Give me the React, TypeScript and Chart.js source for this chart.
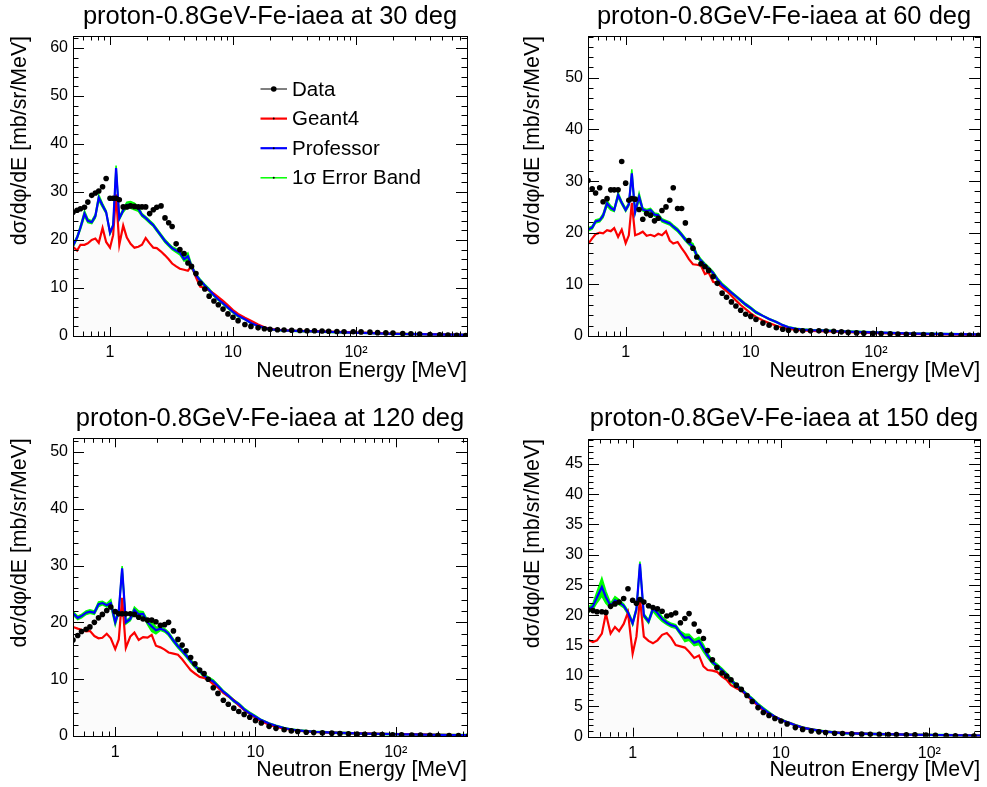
import React, { useEffect, useRef } from "react";
import { Chart, registerables } from "chart.js";
Chart.register(...registerables);

const FONT = "'Liberation Sans', Arial, Helvetica, sans-serif";

// Neutron energy grid [MeV]
const energies = [
  0.5, 0.54, 0.575, 0.62, 0.66, 0.71, 0.76, 0.81, 0.87, 0.93,
  1.0, 1.06, 1.12, 1.19, 1.28, 1.37, 1.47, 1.58, 1.7, 1.82,
  1.95, 2.1, 2.25, 2.4, 2.6, 2.8, 3.0, 3.2, 3.45, 3.7,
  4.0, 4.3, 4.6, 5.0, 5.4, 5.9, 6.4, 7.0, 7.6, 8.3,
  9.1, 10, 11, 12.5, 14, 16, 18, 20, 23, 26,
  30, 35, 40, 46, 53, 60, 70, 80, 95, 110,
  130, 150, 175, 200, 240, 280, 330, 400, 480, 560,
  660, 780,
];

// ---- 30 deg ----
const data30 = [
  25.8, 26.2, 26.5, 26.8, 27.9, 29.3, 29.8, 30.2, 31.1, 32.8,
  28.7, 28.7, 28.7, 28.4, 26.9, 26.9, 27.1, 27.0, 26.9, 26.9,
  26.9, 25.5, 26.3, 26.8, 27.1, 24.6, 23.6, 22.8, 19.2, 18.0,
  17.2, 15.2, 14.5, 13.0, 11.0, 9.8, 8.3, 7.3, 6.5, 5.6,
  4.6, 3.9, 3.2, 2.4, 2.0, 1.7, 1.5, 1.4, 1.3, 1.25,
  1.2, 1.15, 1.1, 1.1, 1.05, 1.0, 0.95, 0.9, 0.9, 0.85,
  0.8, 0.7, 0.65, 0.6, 0.5, 0.45, 0.4, 0.3, 0.25, 0.2,
  0.15, 0.1,
];
const geant30 = [
  18.6, 17.8, 19.0, 19.0, 19.3, 20.0, 20.3, 19.4, 22.5, 19.6,
  18.4, 21.0, 29.5, 19.0, 23.0, 20.5, 19.2, 18.4, 18.6, 19.0,
  20.4, 19.3, 18.4, 18.3, 17.6, 16.8, 16.0, 15.1, 14.5, 14.0,
  13.8, 13.6, 14.6, 12.2, 10.3, 10.0, 9.5, 8.8, 8.1, 7.3,
  6.4, 5.4, 4.6, 3.8, 3.2, 2.4, 1.8, 1.5, 1.3, 1.2,
  1.1, 1.05, 1.0, 1.0, 0.95, 0.9, 0.85, 0.8, 0.75, 0.7,
  0.65, 0.6, 0.55, 0.5, 0.45, 0.4, 0.38, 0.35, 0.32, 0.3,
  0.28, 0.25,
];
const prof30 = [
  18.8, 20.5, 22.6, 25.5, 24.0, 23.7, 25.0, 28.8, 27.2, 25.8,
  21.5, 23.0, 35.0, 24.5, 26.2, 27.3, 27.3, 27.0, 26.5, 25.2,
  24.6, 23.8, 23.1, 22.1, 20.9, 19.8, 19.0, 18.3, 17.8, 17.4,
  16.0, 16.6, 14.5, 12.7, 11.6, 10.5, 9.6, 8.5, 7.6, 6.8,
  5.9, 5.0, 4.2, 3.5, 2.7, 2.1, 1.7, 1.4, 1.25, 1.15,
  1.1, 1.0, 1.0, 0.95, 0.9, 0.85, 0.8, 0.75, 0.7, 0.65,
  0.6, 0.55, 0.5, 0.45, 0.42, 0.4, 0.38, 0.35, 0.32, 0.3,
  0.28, 0.25,
];
const err30 = [
  0.3, 0.3, 0.4, 0.6, 0.4, 0.3, 0.4, 0.6, 0.4, 0.3,
  0.3, 0.3, 0.5, 0.3, 0.4, 0.6, 0.7, 0.7, 0.5, 0.3,
  0.3, 0.3, 0.3, 0.3, 0.3, 0.3, 0.3, 0.3, 0.4, 0.5,
  0.4, 0.7, 0.4, 0.3, 0.3, 0.3, 0.3, 0.2, 0.2, 0.2,
  0.2, 0.2, 0.2, 0.1, 0.1, 0.1, 0.1, 0.1, 0.1, 0.1,
  0.1, 0.1, 0.1, 0.1, 0.1, 0.1, 0.1, 0.1, 0.1, 0.1,
  0.1, 0.1, 0.1, 0.1, 0.1, 0.1, 0.1, 0.1, 0.1, 0.1,
  0.1, 0.1,
];

// ---- 60 deg ----
const data60 = [
  30.1, 28.5, 27.7, 28.7, 26.0, 26.6, 28.3, 28.3, 28.3, 33.8,
  29.6, 26.3, 26.6, 26.5, 24.5, 22.6, 23.7, 23.4, 22.3, 22.8,
  24.3, 25.0, 26.3, 28.7, 24.7, 24.7, 21.9, 18.5, 17.0, 15.3,
  14.0, 13.4, 12.7, 11.5, 10.2, 8.3, 7.5, 6.6, 5.8, 5.0,
  4.2, 3.8, 3.2, 2.5, 2.1, 1.6, 1.3, 1.1, 1.05, 1.0,
  1.0, 1.0, 0.95, 0.9, 0.8, 0.7, 0.6, 0.55, 0.5, 0.47,
  0.45, 0.4, 0.35, 0.32, 0.28, 0.25, 0.22, 0.17, 0.15, 0.13,
  0.12, 0.1,
];
const geant60 = [
  17.8, 18.9, 19.7, 20.0, 19.9, 20.5, 20.3, 20.9, 19.2, 20.6,
  18.0, 19.5, 25.8, 19.5, 19.8, 20.2, 19.4, 19.6, 19.3, 19.8,
  19.5, 20.3, 18.5, 17.9, 18.2, 17.0, 16.0, 14.9, 13.9, 13.8,
  13.6, 12.0, 12.3, 10.5, 10.2, 9.4, 8.7, 7.8, 6.9, 6.0,
  5.2, 4.4, 3.7, 3.0, 2.5, 2.0, 1.6, 1.4, 1.2, 1.1,
  1.0, 0.95, 0.9, 0.85, 0.8, 0.75, 0.7, 0.65, 0.6, 0.55,
  0.5, 0.45, 0.42, 0.4, 0.38, 0.35, 0.33, 0.3, 0.28, 0.25,
  0.22, 0.2,
];
const prof60 = [
  20.6, 21.0, 22.2, 22.4, 23.3, 25.7, 24.8, 24.4, 27.3, 25.8,
  24.4, 25.5, 31.5, 24.0, 27.0, 24.5, 24.2, 24.4, 23.5, 23.4,
  22.4, 22.1, 21.8, 21.2, 20.5, 19.6, 18.7, 18.0, 17.4, 15.6,
  14.6, 13.8, 13.1, 12.2, 11.0, 9.9, 9.2, 8.4, 7.7, 6.9,
  6.1, 5.4, 4.6, 3.9, 3.3, 2.7, 2.1, 1.7, 1.4, 1.25,
  1.15, 1.1, 1.05, 0.95, 0.9, 0.85, 0.8, 0.75, 0.7, 0.65,
  0.6, 0.55, 0.5, 0.47, 0.45, 0.42, 0.4, 0.38, 0.35, 0.32,
  0.3, 0.28,
];
const err60 = [
  0.3, 0.3, 0.3, 0.3, 0.4, 0.5, 0.4, 0.3, 0.5, 0.3,
  0.3, 0.3, 0.8, 0.3, 0.7, 0.3, 0.3, 0.3, 0.3, 0.3,
  0.3, 0.3, 0.3, 0.3, 0.3, 0.3, 0.3, 0.3, 0.5, 0.4,
  0.3, 0.3, 0.3, 0.3, 0.3, 0.3, 0.3, 0.2, 0.2, 0.2,
  0.2, 0.2, 0.2, 0.1, 0.1, 0.1, 0.1, 0.1, 0.1, 0.1,
  0.1, 0.1, 0.1, 0.1, 0.1, 0.1, 0.1, 0.1, 0.1, 0.1,
  0.1, 0.1, 0.1, 0.1, 0.1, 0.1, 0.1, 0.1, 0.1, 0.1,
  0.1, 0.1,
];

// ---- 120 deg ----
const data120 = [
  16.9, 17.7, 18.4, 18.8, 19.2, 20.0, 20.8, 21.4, 22.1, 22.7,
  21.9, 21.5, 21.5, 21.5, 21.5, 21.4, 20.9, 20.6, 20.4, 20.4,
  20.1, 19.5, 19.6, 20.0, 18.5, 17.0, 16.0, 15.0, 13.8, 12.7,
  11.6, 11.0, 10.0, 8.5, 7.5, 6.3, 5.6, 4.9, 4.3, 3.8,
  3.3, 2.7, 2.3, 1.7, 1.35, 1.1, 0.9, 0.8, 0.65, 0.6,
  0.55, 0.5, 0.45, 0.4, 0.35, 0.3, 0.28, 0.25, 0.22, 0.2,
  0.17, 0.15, 0.12, 0.1, 0.08, 0.07, 0.06, 0.05, 0.05, 0.05,
  0.05, 0.05,
];
const geant120 = [
  19.2, 18.9, 18.7, 18.4, 18.5, 17.6, 17.2, 17.3, 18.0, 17.2,
  15.3, 17.0, 24.3, 15.5, 17.5, 18.2, 16.9, 17.4, 17.3, 17.8,
  15.9, 15.6, 15.2, 14.7, 14.5, 14.3, 13.5, 12.6, 11.6, 11.0,
  10.4, 10.2, 9.9, 9.1, 8.5, 7.6, 7.0, 6.3, 5.4, 4.6,
  3.9, 3.2, 2.6, 2.0, 1.6, 1.3, 1.1, 0.95, 0.8, 0.7,
  0.62, 0.58, 0.55, 0.5, 0.47, 0.45, 0.42, 0.38, 0.35, 0.32,
  0.3, 0.27, 0.25, 0.22, 0.2, 0.18, 0.16, 0.15, 0.14, 0.13,
  0.12, 0.1,
];
const prof120 = [
  21.6, 20.8, 21.1, 21.7, 21.9, 21.7, 23.2, 23.4, 23.0, 23.4,
  20.0, 22.0, 29.5, 20.0, 20.6, 22.2, 21.4, 21.5, 20.0, 19.3,
  18.6, 18.9, 18.6, 18.0, 16.8, 15.8, 15.0, 14.2, 13.2, 12.3,
  11.5, 10.6, 10.1, 9.6, 8.8, 7.8, 7.1, 6.2, 5.6, 4.7,
  4.0, 3.4, 2.8, 2.2, 1.8, 1.4, 1.15, 1.0, 0.85, 0.75,
  0.68, 0.6, 0.55, 0.5, 0.45, 0.42, 0.4, 0.36, 0.33, 0.3,
  0.28, 0.25, 0.22, 0.2, 0.18, 0.16, 0.15, 0.14, 0.13, 0.12,
  0.11, 0.1,
];
const err120 = [
  0.3, 0.3, 0.3, 0.3, 0.3, 0.3, 0.4, 0.3, 0.3, 0.6,
  0.5, 0.3, 0.4, 0.3, 0.3, 0.5, 0.6, 0.4, 0.4, 0.9,
  0.6, 0.3, 0.3, 0.3, 0.3, 0.3, 0.3, 0.3, 0.3, 0.3,
  0.3, 0.3, 0.3, 0.3, 0.2, 0.2, 0.2, 0.2, 0.2, 0.2,
  0.2, 0.2, 0.1, 0.1, 0.1, 0.1, 0.1, 0.1, 0.1, 0.1,
  0.1, 0.1, 0.1, 0.1, 0.1, 0.1, 0.1, 0.1, 0.1, 0.1,
  0.1, 0.1, 0.1, 0.1, 0.1, 0.1, 0.1, 0.1, 0.1, 0.1,
  0.1, 0.1,
];

// ---- 150 deg ----
const data150 = [
  20.9, 20.8, 20.6, 20.6, 20.5, 21.5, 21.9, 22.2, 22.8, 24.4,
  22.5, 22.0, 22.6, 22.2, 21.6, 21.3, 21.1, 20.7, 19.9, 20.1,
  20.4, 18.8, 19.5, 20.3, 18.6, 17.4, 16.2, 14.2, 12.7, 11.4,
  10.5, 10.0, 9.4, 8.5, 7.8, 6.8, 5.8, 4.8, 4.0, 3.5,
  3.0, 2.6, 2.1, 1.5, 1.2, 0.95, 0.8, 0.7, 0.58, 0.52,
  0.46, 0.42, 0.4, 0.38, 0.37, 0.35, 0.32, 0.3, 0.27, 0.22,
  0.18, 0.15, 0.12, 0.1, 0.08, 0.07, 0.06, 0.05, 0.05, 0.05,
  0.05, 0.05,
];
const geant150 = [
  16.0, 15.6, 15.9, 17.0, 20.3, 17.0, 18.1, 17.4, 18.6, 20.5,
  13.7, 16.5, 22.8, 16.5, 15.8, 15.4, 15.9, 16.8, 17.1, 16.3,
  15.1, 14.9, 14.7, 14.0, 13.0, 13.4, 11.6, 11.0, 10.9, 10.7,
  9.9, 9.4, 8.5, 8.0, 7.6, 6.8, 5.9, 5.1, 4.3, 3.8,
  3.3, 2.8, 2.4, 1.9, 1.5, 1.2, 1.0, 0.85, 0.72, 0.65,
  0.58, 0.52, 0.48, 0.44, 0.4, 0.38, 0.35, 0.32, 0.3, 0.28,
  0.26, 0.24, 0.22, 0.2, 0.18, 0.17, 0.16, 0.15, 0.14, 0.13,
  0.12, 0.11,
];
const prof150 = [
  20.9, 21.5, 23.0, 24.7, 23.0, 21.6, 22.5, 22.2, 21.6, 20.5,
  18.7, 21.0, 28.5, 20.0, 19.0, 21.1, 20.4, 19.4, 18.8, 18.4,
  18.2, 17.1, 16.3, 16.4, 15.5, 15.8, 14.6, 13.4, 12.3, 11.7,
  11.0, 10.2, 9.3, 8.5, 7.8, 6.9, 6.2, 5.3, 4.6, 3.9,
  3.3, 2.8, 2.4, 1.9, 1.5, 1.2, 1.0, 0.85, 0.7, 0.6,
  0.55, 0.5, 0.45, 0.42, 0.4, 0.38, 0.35, 0.32, 0.3, 0.28,
  0.26, 0.24, 0.22, 0.2, 0.19, 0.18, 0.17, 0.16, 0.15, 0.14,
  0.13, 0.12,
];
const err150 = [
  0.4, 0.5, 0.9, 1.5, 1.0, 0.4, 0.6, 0.4, 0.3, 0.3,
  0.3, 0.3, 0.4, 0.3, 0.3, 0.4, 0.6, 0.4, 0.3, 0.3,
  0.3, 0.3, 0.6, 0.5, 0.5, 0.6, 0.6, 0.4, 0.3, 0.3,
  0.3, 0.3, 0.3, 0.2, 0.2, 0.2, 0.2, 0.2, 0.2, 0.2,
  0.1, 0.1, 0.1, 0.1, 0.1, 0.1, 0.1, 0.1, 0.1, 0.1,
  0.1, 0.1, 0.1, 0.1, 0.1, 0.1, 0.1, 0.1, 0.1, 0.1,
  0.1, 0.1, 0.1, 0.1, 0.1, 0.1, 0.1, 0.1, 0.1, 0.1,
  0.1, 0.1,
];

const titles = [
  "proton-0.8GeV-Fe-iaea at 30 deg",
  "proton-0.8GeV-Fe-iaea at 60 deg",
  "proton-0.8GeV-Fe-iaea at 120 deg",
  "proton-0.8GeV-Fe-iaea at 150 deg",
];
const xMins = [0.5, 0.5, 0.5, 0.5];
const xMaxs = [800, 680, 322, 220];
const yMaxs = [62.5, 58.1, 52.4, 49.1];
const yMajorSteps = [10, 10, 10, 5];
const legendLabels = ["Data", "Geant4", "Professor", "1\u03c3 Error Band"];
const xTickLabels: Record<string, string> = { "1": "1", "10": "10", "100": "10\u00b2" };
const xTitle = "Neutron Energy [MeV]";
const yTitle = "d\u03c3/d\u03c6/dE [mb/sr/MeV]";

const seriesSets = [
  { data: data30, geant: geant30, prof: prof30, err: err30 },
  { data: data60, geant: geant60, prof: prof60, err: err60 },
  { data: data120, geant: geant120, prof: prof120, err: err120 },
  { data: data150, geant: geant150, prof: prof150, err: err150 },
];

const TICK_FONT = 16;
const AXIS_TITLE_FONT = 21.3;

// layout (pixels)
const layouts = [
  { left: 0, top: 0, w: 493, h: 393, L: 73, T: 36, R: 467, B: 336, tPadTop: 1.4, tPadBot: 4, yTPad: 7, xTPad: 8.7 },
  { left: 493, top: 0, w: 494, h: 393, L: 95, T: 36, R: 490, B: 336, tPadTop: 1.4, tPadBot: 4, yTPad: 27.7, xTPad: 8.7 },
  { left: 0, top: 393, w: 493, h: 394, L: 73, T: 45.3, R: 467, B: 343, tPadTop: 10.2, tPadBot: 4.5, yTPad: 7, xTPad: 3.7 },
  { left: 493, top: 393, w: 494, h: 394, L: 95, T: 46, R: 490, B: 343.7, tPadTop: 10.2, tPadBot: 5.2, yTPad: 27.7, xTPad: 3.7 },
];

const rootFrame = {
  id: "rootFrame",
  afterDatasetsDraw(chart: any, _args: any, opts: any) {
    const { ctx, chartArea: a, scales } = chart;
    const xs = scales.x;
    const ys = scales.y;
    ctx.save();
    ctx.strokeStyle = "#000";
    ctx.lineWidth = 1;
    ctx.beginPath();
    for (let d = -1; d <= 3; d++) {
      for (let k = 1; k <= 9; k++) {
        const v = k * Math.pow(10, d);
        if (v < xs.min * 0.9999 || v > xs.max * 1.0001) continue;
        const px = Math.round(xs.getPixelForValue(v)) + 0.5;
        const len = k === 1 ? 9 : 4.5;
        ctx.moveTo(px, a.bottom);
        ctx.lineTo(px, a.bottom - len);
        ctx.moveTo(px, a.top);
        ctx.lineTo(px, a.top + len);
      }
    }
    const minor = opts.yStep / 5;
    for (let i = 0; i * minor <= ys.max + 1e-9; i++) {
      const py = Math.round(ys.getPixelForValue(i * minor)) + 0.5;
      const len = i % 5 === 0 ? 11 : 5.5;
      ctx.moveTo(a.left, py);
      ctx.lineTo(a.left + len, py);
      ctx.moveTo(a.right, py);
      ctx.lineTo(a.right - len, py);
    }
    ctx.stroke();
    const l = Math.round(a.left) + 0.5;
    const t = Math.round(a.top) + 0.5;
    ctx.strokeRect(l, t, Math.round(a.right) - Math.round(a.left), Math.round(a.bottom) - Math.round(a.top));
    ctx.restore();
  },
};

const rootLegend = {
  id: "rootLegend",
  afterDraw(chart: any, _args: any, opts: any) {
    if (!opts || !opts.show) return;
    const ctx = chart.ctx;
    const ds = chart.data.datasets;
    const entries = [
      { label: legendLabels[0], color: ds[0].pointBackgroundColor, lw: 1, dot: 2.8 },
      { label: legendLabels[1], color: ds[2].borderColor, lw: 2.2, dot: 1 },
      { label: legendLabels[2], color: ds[1].borderColor, lw: 2.2, dot: 1 },
      { label: legendLabels[3], color: ds[4].borderColor, lw: 1.5, dot: 1 },
    ];
    ctx.save();
    ctx.font = `20.5px ${FONT}`;
    ctx.textBaseline = "middle";
    ctx.textAlign = "left";
    entries.forEach((e, i) => {
      const y = opts.y0 + i * opts.dy;
      ctx.strokeStyle = e.color;
      ctx.lineWidth = e.lw;
      ctx.beginPath();
      ctx.moveTo(opts.x0, y);
      ctx.lineTo(opts.x1, y);
      ctx.stroke();
      ctx.fillStyle = "#000";
      ctx.beginPath();
      ctx.arc((opts.x0 + opts.x1) / 2, y, e.dot, 0, Math.PI * 2);
      ctx.fill();
      ctx.fillStyle = "#000";
      ctx.fillText(e.label, opts.tx, y + 1);
    });
    ctx.restore();
  },
};

function xTickLabel(v: number): string {
  const lg = Math.log10(v);
  if (Math.abs(lg - Math.round(lg)) > 1e-6) return "";
  const key = String(Math.round(Math.pow(10, Math.round(lg))));
  return xTickLabels[key] ?? "";
}

function Panel({ idx }: { idx: number }) {
  const ref = useRef<HTMLCanvasElement | null>(null);
  const lay = layouts[idx];
  useEffect(() => {
    const s = seriesSets[idx];
    const pts = (vals: number[]) => energies.map((e, i) => ({ x: e, y: vals[i] }));
    const upper = s.prof.map((v, i) => v + s.err[i]);
    const lower = s.prof.map((v, i) => Math.max(0, v - s.err[i]));
    const step = yMajorSteps[idx];
    const chart = new Chart(ref.current as HTMLCanvasElement, {
      type: "line",
      data: {
        datasets: [
          {
            label: legendLabels[0],
            data: pts(s.data),
            showLine: false,
            pointRadius: 2.8,
            pointBackgroundColor: "#000",
            pointBorderWidth: 0,
            borderColor: "#000",
          },
          {
            label: legendLabels[2],
            data: pts(s.prof),
            borderColor: "#0000ff",
            borderWidth: 2.2,
            pointRadius: 0,
            fill: "origin",
            backgroundColor: "rgba(0,0,0,0.015)",
          },
          {
            label: legendLabels[1],
            data: pts(s.geant),
            borderColor: "#ff0000",
            borderWidth: 2.2,
            pointRadius: 0,
            fill: false,
          },
          {
            label: "band upper",
            data: pts(upper),
            borderColor: "#00ff00",
            borderWidth: 1.5,
            pointRadius: 0,
            fill: "+1",
            backgroundColor: "#00ff00",
          },
          {
            label: legendLabels[3],
            data: pts(lower),
            borderColor: "#00ff00",
            borderWidth: 1.5,
            pointRadius: 0,
            fill: false,
          },
        ],
      } as any,
      options: {
        responsive: false,
        animation: false,
        devicePixelRatio: 1,
        events: [],
        layout: { padding: { left: 0, top: 0, right: lay.w - lay.R, bottom: 0 } },
        plugins: {
          legend: { display: false },
          tooltip: { enabled: false },
          title: {
            display: true,
            text: titles[idx],
            fullSize: false,
            color: "#000",
            font: { family: FONT, size: 25.5, weight: "normal" },
            padding: { top: lay.tPadTop, bottom: lay.tPadBot },
          },
          rootFrame: { yStep: step },
          rootLegend: { show: idx === 0, x0: 260.5, x1: 287, tx: 292, y0: 89, dy: 29.6 },
        } as any,
        scales: {
          x: {
            type: "logarithmic",
            min: xMins[idx],
            max: xMaxs[idx],
            grid: { display: false, drawTicks: false },
            border: { display: false },
            ticks: {
              autoSkip: false,
              maxRotation: 0,
              minRotation: 0,
              padding: 6.9,
              color: "#000",
              font: { family: FONT, size: TICK_FONT },
              callback: (v: any) => xTickLabel(Number(v)),
            },
            title: {
              display: true,
              text: xTitle,
              align: "end",
              color: "#000",
              font: { family: FONT, size: AXIS_TITLE_FONT },
              padding: { top: 0, bottom: lay.xTPad },
            },
            afterFit: (sc: any) => {
              sc.height = lay.h - lay.B;
            },
          },
          y: {
            type: "linear",
            min: 0,
            max: yMaxs[idx],
            grid: { display: false, drawTicks: false },
            border: { display: false },
            ticks: {
              stepSize: step,
              includeBounds: false,
              padding: 5,
              color: "#000",
              font: { family: FONT, size: TICK_FONT },
              callback: (v: any) => (Math.abs(Number(v) / step - Math.round(Number(v) / step)) < 1e-6 ? String(v) : ""),
            },
            title: {
              display: true,
              text: yTitle,
              align: "end",
              color: "#000",
              font: { family: FONT, size: AXIS_TITLE_FONT },
              padding: { top: lay.yTPad, bottom: 0 },
            },
            afterFit: (sc: any) => {
              sc.width = lay.L;
            },
          },
        } as any,
      },
      plugins: [rootFrame, rootLegend] as any,
    });
    return () => chart.destroy();
  }, [idx]);
  return (
    <div style={{ position: "absolute", left: lay.left, top: lay.top, width: lay.w, height: lay.h }}>
      <canvas ref={ref} width={lay.w} height={lay.h} style={{ display: "block", width: lay.w, height: lay.h }} />
    </div>
  );
}

export default function App() {
  return (
    <div style={{ position: "absolute", left: 0, top: 0, width: 987, height: 787, background: "#fff" }}>
      {[0, 1, 2, 3].map((i) => (
        <Panel key={i} idx={i} />
      ))}
    </div>
  );
}
